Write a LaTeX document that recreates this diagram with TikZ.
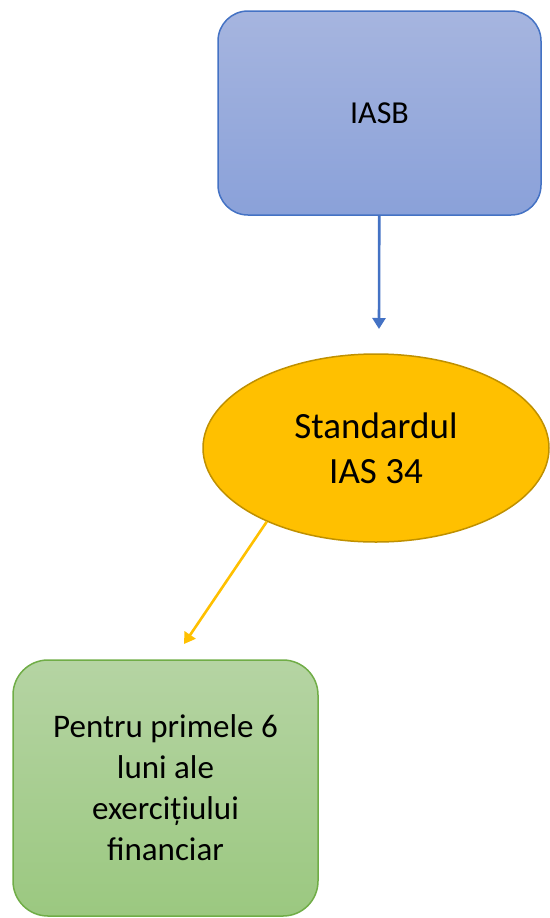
\documentclass[tikz,border=0pt]{standalone}
\usepackage{fontspec}
\setmainfont{Carlito}
\usetikzlibrary{shapes.geometric,arrows.meta}
\definecolor{iasbtop}{HTML}{A6B5DF}
\definecolor{iasbbot}{HTML}{8AA1D9}
\definecolor{iasbedge}{HTML}{4472C4}
\definecolor{stdfill}{HTML}{FFC000}
\definecolor{stdedge}{HTML}{BF9000}
\definecolor{luntop}{HTML}{B5D4A3}
\definecolor{lunbot}{HTML}{9BC880}
\definecolor{lunedge}{HTML}{70AD47}
\begin{document}
\begin{tikzpicture}[x=1pt,y=-1pt,
  box/.style={rounded corners=30pt,line width=1.5pt,align=center,inner sep=0pt},
  link/.style={line width=2.6pt,-{Triangle[width=13pt,length=11pt]}}]
   \useasboundingbox (0,0) rectangle (549,918);
   \node[box,draw=iasbedge,top color=iasbtop,bottom color=iasbbot,minimum width=323pt,minimum height=204pt,font=\fontsize{32}{39}\selectfont] (iasb) at (379.5,113) {IASB};
   \node[ellipse,draw=stdedge,fill=stdfill,line width=1.5pt,inner sep=0pt,minimum width=346pt,minimum height=188pt,align=center,font=\fontsize{37}{45}\selectfont] (ias) at (376,448) {Standardul\\IAS 34};
   \node[box,rounded corners=35pt,draw=lunedge,top color=luntop,bottom color=lunbot,minimum width=305pt,minimum height=256pt,font=\fontsize{33}{41}\selectfont] (luni) at (165.5,788) {Pentru primele 6\\luni ale\\exercițiului\\financiar};
   \coordinate (iasend) at (379,329);
   \coordinate (luniend) at (184,644);
   \draw[link,iasbedge] (iasb) -- (iasend);
   \draw[link,stdfill] (ias.214) -- (luniend);
\end{tikzpicture}
\end{document}
